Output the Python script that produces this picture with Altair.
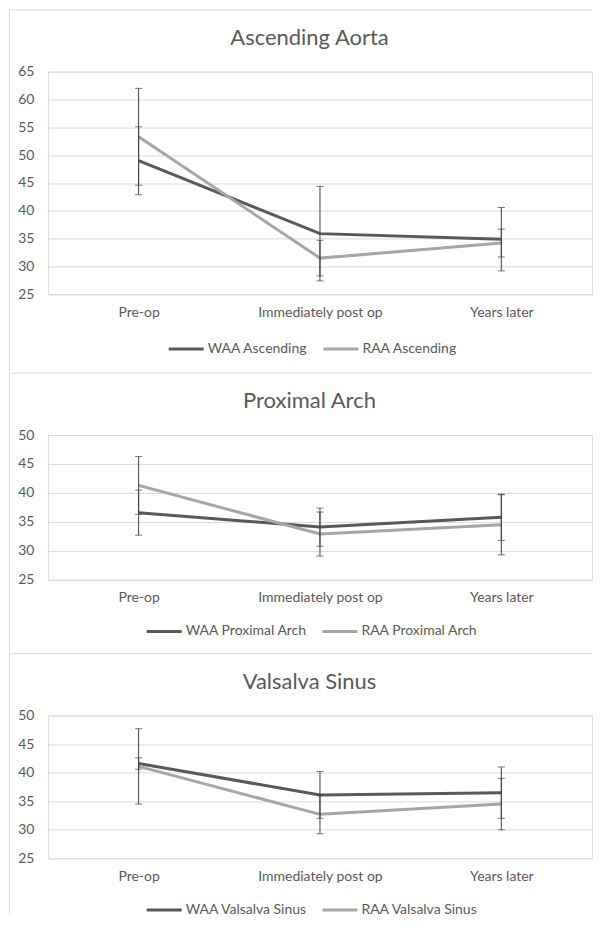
import altair as alt
import pandas as pd

# ---------------- data ----------------
times = ["Pre-op", "Immediately post op", "Years later"]
panel_titles = ["Ascending Aorta", "Proximal Arch", "Valsalva Sinus"]
waa_labels = ["WAA Ascending", "WAA Proximal Arch", "WAA Valsalva Sinus"]
raa_labels = ["RAA Ascending", "RAA Proximal Arch", "RAA Valsalva Sinus"]

asc_waa_mean = [49.0, 35.9, 34.9]
asc_waa_sd = [6.1, 8.5, 5.7]
asc_raa_mean = [53.3, 31.5, 34.2]
asc_raa_sd = [8.7, 3.2, 2.5]

prox_waa_mean = [36.6, 34.1, 35.8]
prox_waa_sd = [3.9, 3.3, 4.0]
prox_raa_mean = [41.3, 32.9, 34.5]
prox_raa_sd = [5.0, 3.8, 5.2]

vals_waa_mean = [41.6, 36.1, 36.5]
vals_waa_sd = [1.0, 4.1, 4.5]
vals_raa_mean = [41.1, 32.7, 34.5]
vals_raa_sd = [6.6, 3.4, 4.5]

y_domains = [[25, 65], [25, 50], [25, 50]]
y_ticks = [[25, 30, 35, 40, 45, 50, 55, 60, 65],
           [25, 30, 35, 40, 45, 50],
           [25, 30, 35, 40, 45, 50]]

# ---------------- style ----------------
FONT = "Lato"
TEXT = "#595959"
DARK = "#595959"
LIGHT = "#a6a6a6"
ERR = "#404040"
GRID = "#d9d9d9"
BORDER = "#d9d9d9"
W = 545


def panel(i, waa_mean, waa_sd, raa_mean, raa_sd, H, top, bottom, legend_x, legend_dy):
    df = pd.DataFrame({
        "time": times * 2,
        "series": [waa_labels[i]] * 3 + [raa_labels[i]] * 3,
        "mean": waa_mean + raa_mean,
        "sd": waa_sd + raa_sd,
    })
    df["lo"] = df["mean"] - df["sd"]
    df["hi"] = df["mean"] + df["sd"]

    x_scale = alt.Scale(type="point", padding=0.5)
    x_axis = alt.Axis(title=None, labelAngle=0, domain=False, ticks=False,
                      tickSize=0, grid=False, labelPadding=11,
                      labelFont=FONT, labelFontSize=14, labelColor=TEXT)
    y_scale = alt.Scale(domain=y_domains[i], nice=False, zero=False)
    y_axis = alt.Axis(title=None, values=y_ticks[i], domain=False, ticks=False,
                      tickSize=0, grid=True, gridColor=GRID, gridWidth=1,
                      labelOverlap=False, labelPadding=14, labelFont=FONT,
                      labelFontSize=14, labelColor=TEXT)

    def X():
        return alt.X("time:N", sort=times, scale=x_scale, axis=x_axis)

    def Y(field):
        return alt.Y(field, scale=y_scale, axis=y_axis)

    base = alt.Chart(df)
    lines = base.mark_line(strokeWidth=3).encode(
        x=X(),
        y=Y("mean:Q"),
        color=alt.Color(
            "series:N",
            scale=alt.Scale(domain=[waa_labels[i], raa_labels[i]], range=[DARK, LIGHT]),
            legend=alt.Legend(orient="none", legendX=legend_x, legendY=H + legend_dy,
                              direction="horizontal", title=None,
                              symbolType="M-2.5,0H2.5", symbolSize=196,
                              symbolStrokeWidth=3, labelFont=FONT,
                              labelFontSize=14, labelColor=TEXT, labelOffset=13,
                              columnPadding=9, padding=0),
        ),
    )
    bars = base.mark_rule(color=ERR, strokeWidth=1).encode(
        x=X(), y=Y("lo:Q"), y2="hi:Q")
    caps_lo = base.mark_tick(color=ERR, size=7, thickness=1).encode(
        x=X(), y=Y("lo:Q"))
    caps_hi = base.mark_tick(color=ERR, size=7, thickness=1).encode(
        x=X(), y=Y("hi:Q"))

    title = alt.Chart(pd.DataFrame({"t": [panel_titles[i]]})).mark_text(
        font=FONT, fontSize=22, color=TEXT, align="center", baseline="middle"
    ).encode(text="t:N", x=alt.value(262), y=alt.value(-34))

    one = pd.DataFrame({"k": [0]})
    left_edge = alt.Chart(one).mark_rule(color=BORDER, strokeWidth=1).encode(
        x=alt.value(-38.5), y=alt.value(top), y2=alt.value(H + bottom))
    top_edge = alt.Chart(one).mark_rule(color=BORDER, strokeWidth=1).encode(
        x=alt.value(-38.5), x2=alt.value(545), y=alt.value(top))

    return alt.layer(left_edge, top_edge, title, lines, bars, caps_lo, caps_hi).properties(
        width=W, height=H)


p1 = panel(0, asc_waa_mean, asc_waa_sd, asc_raa_mean, asc_raa_sd,
           H=223, top=-62, bottom=77, legend_x=130, legend_dy=46)
p2 = panel(1, prox_waa_mean, prox_waa_sd, prox_raa_mean, prox_raa_sd,
           H=145, top=-62, bottom=72, legend_x=108, legend_dy=43)
p3 = panel(2, vals_waa_mean, vals_waa_sd, vals_raa_mean, vals_raa_sd,
           H=143, top=-62, bottom=56, legend_x=108, legend_dy=43)

chart = alt.vconcat(p1, p2, p3, spacing=0).resolve_scale(
    x="independent", y="independent", color="independent"
).resolve_legend(color="independent").properties(
    padding=0
).configure_view(stroke=None).configure(font=FONT)

chart.save("out.html", embed_options={"renderer": "svg", "actions": False})
